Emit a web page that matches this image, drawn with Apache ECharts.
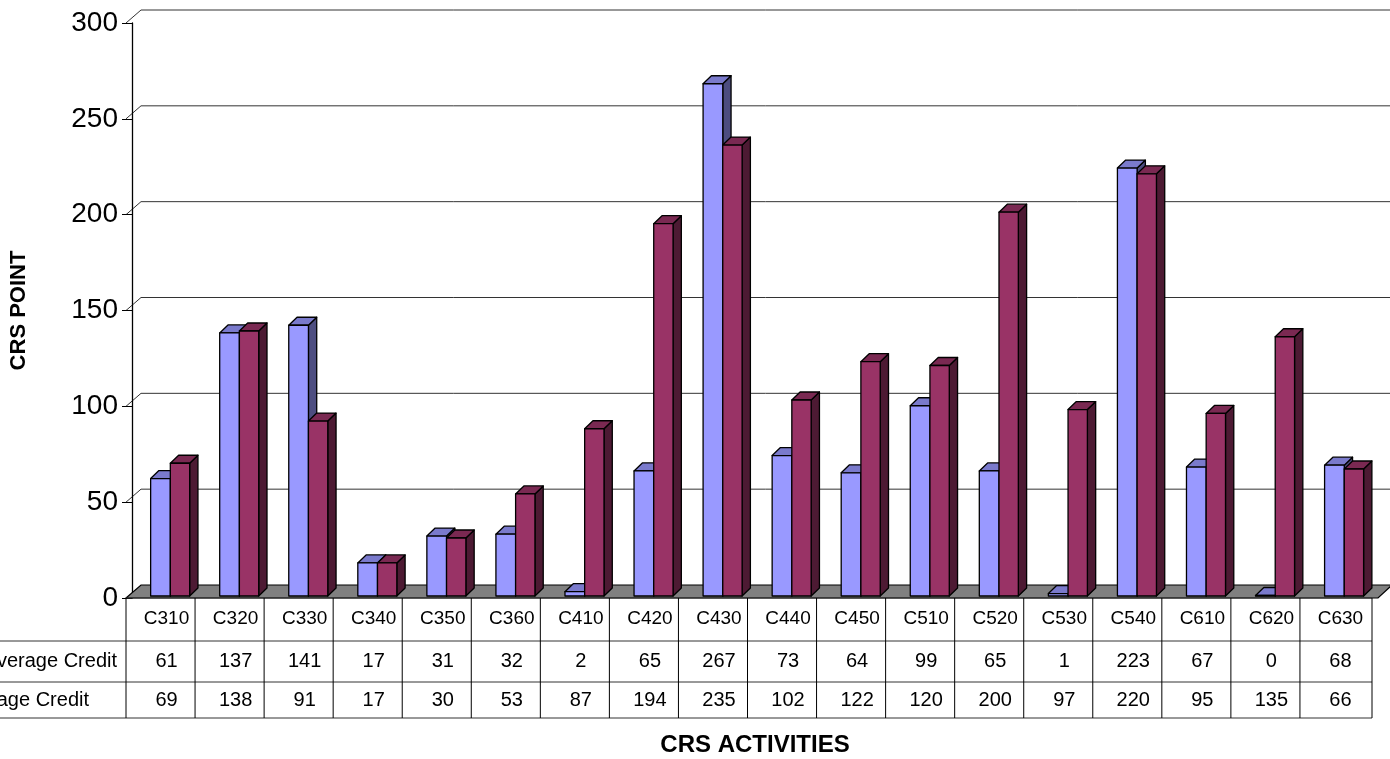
<!DOCTYPE html>
<html><head><meta charset="utf-8">
<script src="https://cdn.jsdelivr.net/npm/echarts@6/dist/echarts.min.js"></script>
<style>html,body{margin:0;padding:0;background:#fff;overflow:hidden}#c{width:1390px;height:759px}</style>
</head><body><div id="c"></div>
<script>
const categories = ['C310','C320','C330','C340','C350','C360','C410','C420','C430','C440','C450','C510','C520','C530','C540','C610','C620','C630'];
const seriesNames = ['Average Credit','Average Credit'];
const avgCreditA = [61,137,141,17,31,32,2,65,267,73,64,99,65,1,223,67,0,68];
const avgCreditB = [69,138,91,17,30,53,87,194,235,102,122,120,200,97,220,95,135,66];
const yTicks = [0,50,100,150,200,250,300];
const yAxisTitle = 'CRS POINT';
const xAxisTitle = 'CRS ACTIVITIES';

const GRID = {left:126, right:15, top:23, bottom:161};
const DEPTH = {dx:15, dy:-13};
const FONT = 'Liberation Sans, Arial, sans-serif';

function bar3D(startFrac, endFrac, front, topc, side){
  return function(params, api){
    const idx = api.value(0), v = api.value(1);
    const top = api.coord([idx, v]);
    const base = api.coord([idx, 0]);
    const bw = api.size([1,0])[0];
    const x0 = top[0] + startFrac*bw, x1 = top[0] + endFrac*bw;
    const dx = 0.12*bw, dy = -8;
    const yb = base[1] - 2;
    const yt = Math.min(top[1] - 2.5, yb);
    const st = {stroke:'#000', lineWidth:1.3, lineJoin:'round'};
    return {type:'group', children:[
      {type:'polygon', shape:{points:[[x1,yb],[x1+dx,yb+dy],[x1+dx,yt+dy],[x1,yt]]}, style:Object.assign({fill:side}, st)},
      {type:'polygon', shape:{points:[[x0,yt],[x0+dx,yt+dy],[x1+dx,yt+dy],[x1,yt]]}, style:Object.assign({fill:topc}, st)},
      {type:'rect', shape:{x:x0, y:yt, width:x1-x0, height:Math.max(yb-yt,0)}, style:Object.assign({fill:front}, st)}
    ]};
  };
}

const chart = echarts.init(document.getElementById('c'), null, {renderer:'canvas'});
const option = {
  animation:false,
  backgroundColor:'#fff',
  grid:GRID,
  xAxis:{type:'category', data:categories, boundaryGap:true,
    axisLine:{show:false}, axisTick:{show:false},
    axisLabel:{fontSize:19, color:'#000', fontFamily:FONT, margin:11, interval:0}},
  yAxis:{type:'value', min:0, max:300, interval:50,
    name:yAxisTitle, nameLocation:'middle', nameGap:102, nameRotate:90,
    nameTextStyle:{fontSize:22, fontWeight:'bold', color:'#000', fontFamily:FONT},
    axisLine:{show:true, lineStyle:{color:'#000', width:1.3}},
    axisTick:{show:true, length:10, lineStyle:{color:'#000'}},
    axisLabel:{fontSize:28, color:'#000', fontFamily:FONT, margin:14},
    splitLine:{show:false}},
  series:[
    {type:'custom', name:seriesNames[0], z:5, renderItem:bar3D(-0.23, 0.055, '#9999FF', '#7A7ACC', '#4D4D80'),
      data:avgCreditA.map((v,i)=>[i,v]), encode:{x:0,y:1}},
    {type:'custom', name:seriesNames[1], z:6, renderItem:bar3D(0.055, 0.335, '#993366', '#7A2952', '#4D1A33'),
      data:avgCreditB.map((v,i)=>[i,v]), encode:{x:0,y:1}}
  ]
};
chart.setOption(option);

const g = [];
const L = GRID.left, R = 1390 - GRID.right;
const y0 = chart.convertToPixel({yAxisIndex:0}, 0);
yTicks.forEach(t=>{
  if (t === 0) return;
  const y = chart.convertToPixel({yAxisIndex:0}, t);
  g.push({type:'polyline', z:0, silent:true, shape:{points:[[L,y],[L+DEPTH.dx,y+DEPTH.dy],[1390,y+DEPTH.dy]]},
    style:{stroke:'#333', lineWidth:1, fill:null}});
});
g.push({type:'polygon', z:1, silent:true, shape:{points:[[L,y0],[L+DEPTH.dx,y0+DEPTH.dy],[1392,y0+DEPTH.dy],[R+3,y0]]},
  style:{fill:'#808080', stroke:'#000', lineWidth:1.2}});

const c0 = chart.convertToPixel({xAxisIndex:0}, 0);
const c1 = chart.convertToPixel({xAxisIndex:0}, 1);
const bw = c1 - c0;
const rowY = [y0, 641, 682, 718];
const tableR = L + bw*categories.length + 3;
const lineSt = {stroke:'#333', lineWidth:1};
g.push({type:'line', z:3, shape:{x1:L, y1:rowY[0], x2:tableR, y2:rowY[0]}, style:lineSt});
for (let r=1;r<4;r++) g.push({type:'line', z:3, shape:{x1:0, y1:rowY[r], x2:tableR, y2:rowY[r]}, style:lineSt});
for (let i=0;i<=categories.length;i++){
  const x = i===categories.length ? tableR : L + bw*i;
  g.push({type:'line', z:3, shape:{x1:x, y1:rowY[0], x2:x, y2:rowY[3]}, style:{stroke:'#000', lineWidth:1}});
}
[avgCreditA, avgCreditB].forEach((arr, r)=>{
  const cy = (rowY[r+1] + rowY[r+2]) / 2;
  arr.forEach((v,i)=>{
    const cx = chart.convertToPixel({xAxisIndex:0}, i);
    g.push({type:'text', z:3, style:{text:String(v), x:cx, y:cy, textAlign:'center', textVerticalAlign:'middle',
      fontSize:20, fontFamily:FONT, fill:'#000'}});
  });
});
g.push({type:'text', z:3, style:{text:seriesNames[0], x:117, y:(rowY[1]+rowY[2])/2, textAlign:'right', textVerticalAlign:'middle', fontSize:20, fontFamily:FONT, fill:'#000'}});
g.push({type:'text', z:3, style:{text:seriesNames[1], x:89, y:(rowY[2]+rowY[3])/2, textAlign:'right', textVerticalAlign:'middle', fontSize:20, fontFamily:FONT, fill:'#000'}});
g.push({type:'text', z:3, style:{text:xAxisTitle, x:755, y:745, textAlign:'center', textVerticalAlign:'middle', fontSize:24, fontWeight:'bold', fontFamily:FONT, fill:'#000'}});

chart.setOption({graphic:g});
</script></body></html>
